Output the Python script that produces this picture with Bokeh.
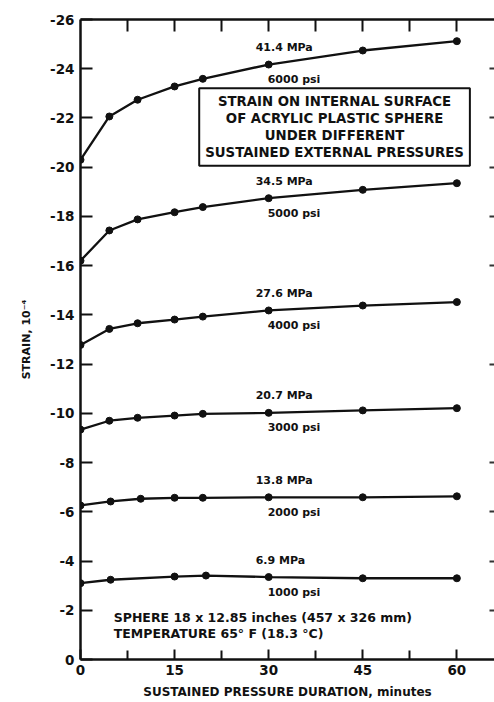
from bokeh.plotting import figure
from bokeh.models import Range1d, LinearAxis, FixedTicker, Label, CustomLabelingPolicy
from bokeh.embed import file_html
from bokeh.resources import INLINE

# ---- data ----
t_main = [0, 4.6, 9.1, 15, 19.5, 30, 45, 60]
t_13 = [0, 4.8, 9.6, 15, 19.5, 30, 45, 60]
t_6 = [0, 4.8, 15, 20, 30, 45, 60]

s_41 = [-20.3, -22.06, -22.74, -23.28, -23.59, -24.17, -24.74, -25.12]
s_34 = [-16.2, -17.43, -17.88, -18.17, -18.38, -18.74, -19.08, -19.35]
s_27 = [-12.78, -13.43, -13.66, -13.81, -13.93, -14.18, -14.38, -14.52]
s_20 = [-9.34, -9.70, -9.82, -9.91, -9.98, -10.02, -10.12, -10.21]
s_13 = [-6.26, -6.42, -6.53, -6.57, -6.57, -6.59, -6.59, -6.63]
s_6 = [-3.10, -3.24, -3.37, -3.41, -3.35, -3.30, -3.30]

mpa_labels = ["41.4 MPa", "34.5 MPa", "27.6 MPa", "20.7 MPa", "13.8 MPa", "6.9 MPa"]
psi_labels = ["6000 psi", "5000 psi", "4000 psi", "3000 psi", "2000 psi", "1000 psi"]

x_ticks = [0, 15, 30, 45, 60]
x_minor = [7.5, 22.5, 37.5, 52.5]
top_ticks = [7.5, 15, 22.5, 30, 37.5, 45, 52.5, 60]
y_ticks = [0, -2, -4, -6, -8, -10, -12, -14, -16, -18, -20, -22, -24, -26]
right_ticks = [-2, -4, -6, -8, -12, -16, -18, -20, -22, -24]

title_text = ("STRAIN ON INTERNAL SURFACE\nOF ACRYLIC PLASTIC SPHERE\n"
              "UNDER DIFFERENT\nSUSTAINED EXTERNAL PRESSURES")
note_text = "SPHERE  18 x 12.85 inches  (457 x 326 mm)\nTEMPERATURE  65° F  (18.3 °C)"

FONT = "DejaVu Sans"
INK = "#111111"

series = [(t_main, s_41), (t_main, s_34), (t_main, s_27), (t_main, s_20), (t_13, s_13), (t_6, s_6)]

no_labels_code = "for (let k = 0; k < indices.size; k++) { indices.set(k, false) }\nreturn indices"

p = figure(width=494, height=701, x_range=Range1d(0, 66), y_range=Range1d(0, -26),
           output_backend="svg", toolbar_location=None,
           min_border_left=80, min_border_top=19, min_border_bottom=42, min_border_right=0)
p.outline_line_color = None
p.xgrid.visible = False
p.ygrid.visible = False
p.background_fill_color = "white"

# left axis
ya = p.yaxis[0]
ya.ticker = FixedTicker(ticks=y_ticks)
ya.major_label_overrides = {v: str(v) for v in y_ticks}
ya.axis_line_width = 2.5
ya.axis_line_color = INK
ya.major_tick_in = 12
ya.major_tick_out = 0
ya.major_tick_line_width = 2
ya.major_tick_line_color = INK
ya.minor_tick_line_color = None
ya.major_label_text_font = FONT
ya.major_label_text_font_style = "bold"
ya.major_label_text_font_size = "13.5px"
ya.major_label_text_color = INK
ya.major_label_standoff = 6
ya.axis_label = "STRAIN, 10⁻⁴"
ya.axis_label_text_font = FONT
ya.axis_label_text_font_style = "bold"
ya.axis_label_text_font_size = "11px"
ya.axis_label_text_color = INK
ya.axis_label_standoff = 14

# bottom axis
xa = p.xaxis[0]
xa.ticker = FixedTicker(ticks=x_ticks, minor_ticks=x_minor)
xa.axis_line_width = 2.5
xa.axis_line_color = INK
xa.major_tick_in = 10
xa.major_tick_out = 0
xa.major_tick_line_width = 2
xa.major_tick_line_color = INK
xa.minor_tick_in = 9
xa.minor_tick_out = 0
xa.minor_tick_line_width = 2
xa.minor_tick_line_color = INK
xa.major_label_text_font = FONT
xa.major_label_text_font_style = "bold"
xa.major_label_text_font_size = "13.5px"
xa.major_label_text_color = INK
xa.major_label_standoff = 5
xa.axis_label = "SUSTAINED PRESSURE DURATION, minutes"
xa.axis_label_text_font = FONT
xa.axis_label_text_font_style = "bold"
xa.axis_label_text_font_size = "12px"
xa.axis_label_text_color = INK
xa.axis_label_standoff = 7

# top axis (ticks only)
ta = LinearAxis(ticker=FixedTicker(ticks=top_ticks),
                major_label_policy=CustomLabelingPolicy(code=no_labels_code))
ta.major_label_overrides = {v: "" for v in top_ticks}
ta.axis_line_width = 2.5
ta.axis_line_color = INK
ta.major_tick_in = 12
ta.major_tick_out = 0
ta.major_tick_line_width = 2
ta.major_tick_line_color = INK
ta.minor_tick_line_color = None
ta.major_label_standoff = 0
p.add_layout(ta, "above")

# right side (small ticks only)
ra = LinearAxis(ticker=FixedTicker(ticks=right_ticks),
                major_label_policy=CustomLabelingPolicy(code=no_labels_code))
ra.major_label_overrides = {v: "" for v in right_ticks}
ra.axis_line_color = None
ra.major_tick_in = 5
ra.major_tick_out = 0
ra.major_tick_line_width = 2
ra.major_tick_line_color = "#333333"
ra.minor_tick_line_color = None
ra.major_label_standoff = 0
p.add_layout(ra, "right")

for (t, s), m, ps in zip(series, mpa_labels, psi_labels):
    p.line(t, s, line_width=2.3, line_color=INK)
    p.scatter(t, s, size=7, fill_color=INK, line_color=INK)
    i30 = t.index(30)
    p.add_layout(Label(x=t[i30], y=s[i30], text=m, x_offset=-13, y_offset=17,
                       text_baseline="middle", text_font=FONT, text_font_style="bold",
                       text_font_size="11px", text_color=INK))
    p.add_layout(Label(x=t[i30], y=s[i30], text=ps, x_offset=-1, y_offset=-15,
                       text_baseline="middle", text_font=FONT, text_font_style="bold",
                       text_font_size="11px", text_color=INK))

p.add_layout(Label(x=40.5, y=-21.63, text=title_text, text_align="center", text_baseline="middle",
                   text_font=FONT, text_font_style="bold", text_font_size="13.3px",
                   text_line_height=1.12, text_color=INK,
                   border_line_color=INK, border_line_width=2, background_fill_color="white",
                   padding=6))

p.add_layout(Label(x=5.3, y=-1.38, text=note_text, text_align="left", text_baseline="middle",
                   text_font=FONT, text_font_style="bold", text_font_size="12.5px",
                   text_line_height=1.1, text_color=INK))

open("out.html", "w").write(file_html(p, INLINE))
